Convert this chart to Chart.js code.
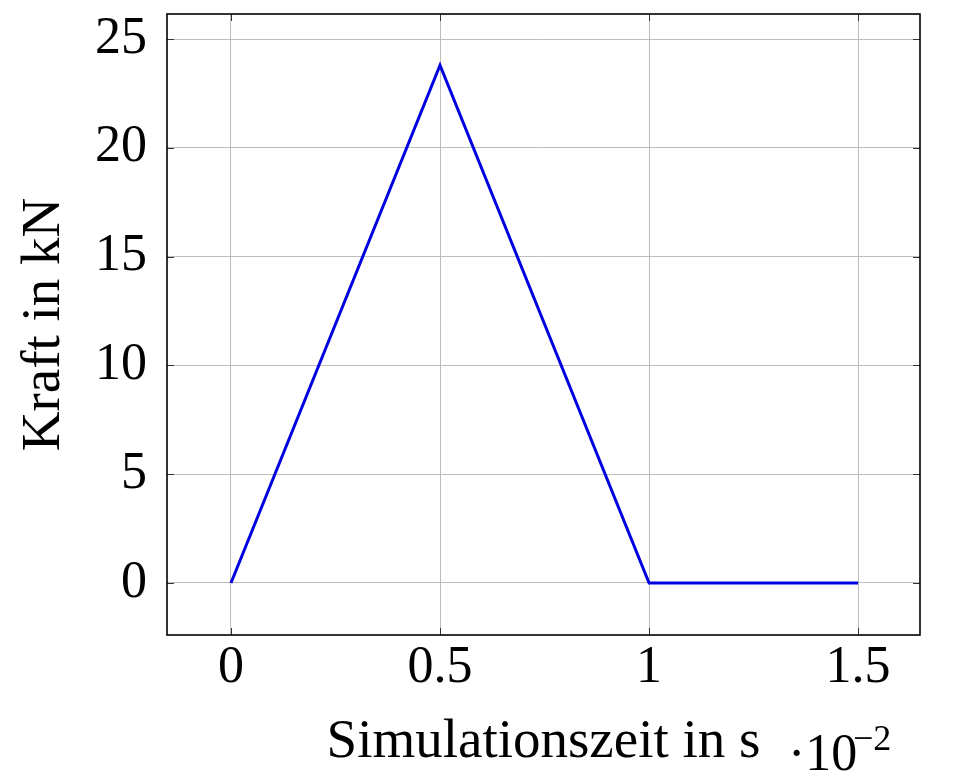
<!DOCTYPE html>
<html>
<head>
<meta charset="utf-8">
<script src="https://cdn.jsdelivr.net/npm/chart.js@4/dist/chart.umd.min.js"></script>
<style>
  html, body { margin: 0; padding: 0; background: #fff; }
  #wrap { width: 968px; height: 783px; }
</style>
</head>
<body>
<div id="wrap"><canvas id="chart"></canvas></div>
<script>
// Simulationszeit (in 10^-2 s) und Kraft (kN)
var timeValues = [0, 0.5, 1, 1.5];
var forceValues = [0, 23.8, 0, 0];
var xTicks = [0, 0.5, 1, 1.5];
var yTicks = [0, 5, 10, 15, 20, 25];

var serif = "'Liberation Serif', 'DejaVu Serif', serif";

// frame + inner tick marks like pgfplots, and the ·10^-2 factor
var framePlugin = {
    id: 'frame',
    afterDraw: function (chart) {
        var ctx = chart.ctx;
        var a = chart.chartArea;
        var xs = chart.scales.x, ys = chart.scales.y;
        ctx.save();
        ctx.strokeStyle = '#333';
        ctx.lineWidth = 1;
        xTicks.forEach(function (v) {
            var px = Math.round(xs.getPixelForValue(v)) + 0.5;
            ctx.beginPath();
            ctx.moveTo(px, a.bottom); ctx.lineTo(px, a.bottom - 7);
            ctx.moveTo(px, a.top); ctx.lineTo(px, a.top + 7);
            ctx.stroke();
        });
        yTicks.forEach(function (v) {
            var py = Math.round(ys.getPixelForValue(v)) + 0.5;
            ctx.beginPath();
            ctx.moveTo(a.left, py); ctx.lineTo(a.left + 7, py);
            ctx.moveTo(a.right, py); ctx.lineTo(a.right - 7, py);
            ctx.stroke();
        });
        ctx.strokeStyle = '#000';
        ctx.lineWidth = 1.6;
        ctx.strokeRect(a.left, a.top, a.right - a.left, a.bottom - a.top);

        ctx.fillStyle = '#000';
        ctx.textBaseline = 'alphabetic';
        ctx.textAlign = 'left';
        ctx.font = '52px ' + serif;
        ctx.fillText('\u00b710', 788, 770);
        ctx.font = '36px ' + serif;
        ctx.fillText('\u22122', 853, 750);
        ctx.restore();
    }
};

var chart = new Chart(document.getElementById('chart'), {
    type: 'line',
    data: {
        datasets: [{
            data: timeValues.map(function (t, i) { return { x: t, y: forceValues[i] }; }),
            borderColor: '#0000e0',
            borderWidth: 3,
            pointRadius: 0,
            fill: false,
            tension: 0
        }]
    },
    options: {
        responsive: true,
        maintainAspectRatio: false,
        animation: false,
        layout: { padding: { left: 0, right: 48, top: 14, bottom: 0 } },
        plugins: {
            legend: { display: false },
            tooltip: { enabled: false }
        },
        scales: {
            x: {
                type: 'linear',
                min: -0.153,
                max: 1.648,
                afterBuildTicks: function (scale) {
                    scale.ticks = xTicks.map(function (v) { return { value: v }; });
                },
                afterFit: function (scale) {
                    scale.height = 148;
                    scale.paddingLeft = 0;
                    scale.paddingRight = 0;
                },
                grid: { color: '#bdbdbd', lineWidth: 1, drawTicks: false },
                border: { display: false },
                ticks: {
                    color: '#000',
                    padding: 2,
                    maxRotation: 0,
                    font: { family: serif, size: 52 },
                    callback: function (v) { return String(v); }
                },
                title: {
                    display: true,
                    text: 'Simulationszeit in s',
                    color: '#000',
                    font: { family: serif, size: 55 },
                    padding: { top: 0, bottom: 7 }
                }
            },
            y: {
                min: -2.39,
                max: 26.15,
                afterBuildTicks: function (scale) {
                    scale.ticks = yTicks.map(function (v) { return { value: v }; });
                },
                afterFit: function (scale) {
                    scale.width = 167;
                    scale.paddingTop = 0;
                    scale.paddingBottom = 0;
                },
                grid: { color: '#bdbdbd', lineWidth: 1, drawTicks: false },
                border: { display: false },
                ticks: {
                    color: '#000',
                    padding: 20,
                    font: { family: serif, size: 52 }
                },
                title: {
                    display: true,
                    text: 'Kraft in kN',
                    color: '#000',
                    font: { family: serif, size: 55 },
                    padding: { top: 12, bottom: 0 }
                }
            }
        }
    },
    plugins: [framePlugin]
});
</script>
</body>
</html>
